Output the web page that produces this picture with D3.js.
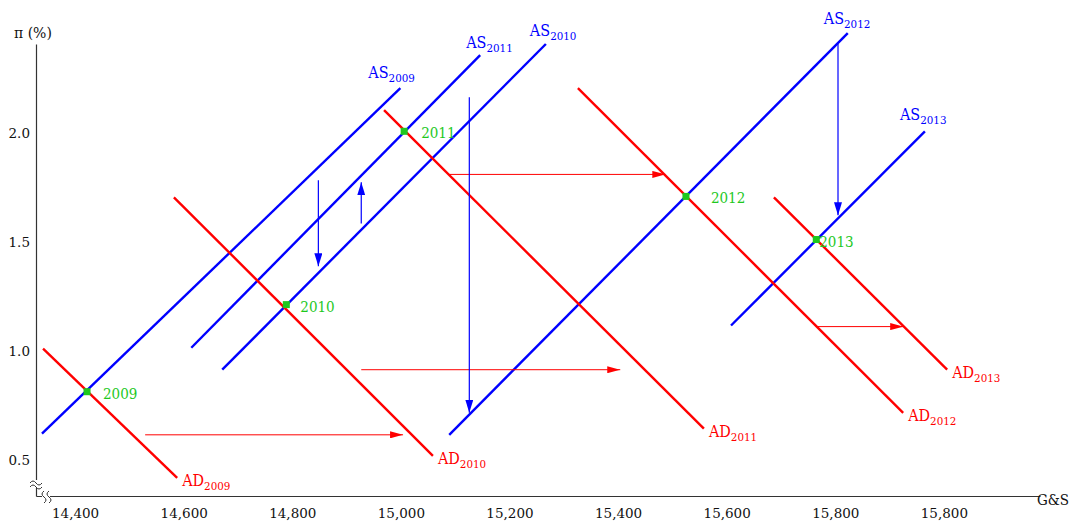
<!DOCTYPE html>
<html><head><meta charset="utf-8">
<script src="https://cdn.jsdelivr.net/npm/d3@7/dist/d3.min.js"></script>
<style>
body{margin:0;background:#fff;}
svg text{font-family:"DejaVu Serif",serif;font-stretch:condensed;}
</style></head>
<body><svg id="c" width="1074" height="523"></svg>
<script>
// ---- data ----
const years = [2009, 2010, 2011, 2012, 2013];
// AS curves: [x1, y1, x2, y2] (G&S, inflation %)
const asStart = [[14339, 0.620], [14671, 0.914], [14614, 1.015], [15089, 0.615], [15608, 1.117]];
const asEnd   = [[14999, 2.207], [15267, 2.410], [15146, 2.359], [15823, 2.460], [15965, 2.009]];
// AD curves
const adStart = [[14341, 1.011], [14582, 1.706], [14969, 2.106], [15326, 2.207], [15687, 1.706]];
const adEnd   = [[14588, 0.417], [15059, 0.518], [15558, 0.643], [15925, 0.716], [16006, 0.914]];
// equilibria
const eqX = [14422, 14789, 15006, 15525, 15765];
const eqY = [0.813, 1.213, 2.009, 1.710, 1.512];
// AD shift arrows (horizontal): [xFrom, xTo, y]
const adShifts = [[14529, 15004, 0.615], [14927, 15404, 0.914], [15087, 15487, 1.811], [15768, 15925, 1.112]];
// AS shift arrows (vertical): [x, yFrom, yTo]
const asShifts = [[14848, 1.784, 1.389], [14927, 1.586, 1.775], [15126, 2.166, 0.716], [15805, 2.410, 1.623]];
const xTickValues = [14400, 14600, 14800, 15000, 15200, 15400, 15600, 15800, 16000];
const xTickLabels = ["14,400", "14,600", "14,800", "15,000", "15,200", "15,400", "15,600", "15,800", "15,800"];
const yTickValues = [0.5, 1.0, 1.5, 2.0];
const yTickLabels = ["0.5", "1.0", "1.5", "2.0"];
const xDomain = [14328, 16177];
const yDomain = [0.334, 2.41];

// label placement (pixels, layout only)
const asLabelDx = [-32, -16, -14, -24, -25];
const asLabelDy = [-10, -8, -7, -9, -11];
const eqLabelDx = [16, 14, 17, 25, 3];

// ---- drawing ----
const svg = d3.select("#c");
const x = d3.scaleLinear().domain(xDomain).range([36, 1040]);
const y = d3.scaleLinear().domain(yDomain).range([496, 44]);
const BLUE = "#0000ff", RED = "#ff0000", GREEN = "#1ec81e", AX = "#333";

const defs = svg.append("defs");
function marker(id, color, w, h) {
  defs.append("marker").attr("id", id).attr("markerUnits", "userSpaceOnUse")
    .attr("viewBox", `0 0 ${w} ${h}`).attr("refX", w).attr("refY", h / 2)
    .attr("markerWidth", w).attr("markerHeight", h).attr("orient", "auto")
    .append("path").attr("d", `M0,0L${w},${h/2}L0,${h}Z`).attr("fill", color);
}
marker("ar", RED, 13, 7);
marker("ab", BLUE, 13, 8);

// axes
const gx = svg.append("g").attr("transform", `translate(0,${y(yDomain[0])})`)
  .call(d3.axisBottom(x).tickValues(xTickValues).tickFormat((d, i) => xTickLabels[i]).tickSize(0).tickSizeOuter(0).tickPadding(12));
const gy = svg.append("g").attr("transform", `translate(${x(xDomain[0])},0)`)
  .call(d3.axisLeft(y).tickValues(yTickValues).tickFormat((d, i) => yTickLabels[i]).tickSize(0).tickSizeOuter(0).tickPadding(6));
[gx, gy].forEach(g => {
  g.select(".domain").attr("stroke", AX).attr("stroke-width", 1.2);
  g.selectAll("text").attr("font-size", 13.5).attr("fill", "#111")
    .attr("font-family", "DejaVu Serif").style("font-stretch", "normal");
});

// axis breaks
const x0 = x(xDomain[0]), y0 = y(yDomain[0]);
svg.append("rect").attr("x", x0 - 3).attr("y", y0 - 16).attr("width", 6).attr("height", 8).attr("fill", "#fff");
[-14, -10].forEach(dy => {
  svg.append("path").attr("d", `M${x0-6},${y0+dy+1} q3,-4 6,0 t6,0`).attr("fill", "none").attr("stroke", AX).attr("stroke-width", 1);
});
svg.append("rect").attr("x", x0 + 6).attr("y", y0 - 3).attr("width", 8).attr("height", 6).attr("fill", "#fff");
[7, 12].forEach(dx => {
  svg.append("path").attr("d", `M${x0+dx+1},${y0-5} q-4,3 0,6 t0,6`).attr("fill", "none").attr("stroke", AX).attr("stroke-width", 1);
});

// axis titles
svg.append("text").attr("x", 14).attr("y", 38).attr("font-size", 14).attr("fill", "#111").style("font-stretch", "normal").text("π (%)");
svg.append("text").attr("x", 1037).attr("y", 505).attr("font-size", 15).attr("fill", "#111").text("G&S");

// AS lines
years.forEach((yr, i) => {
  svg.append("line").attr("x1", x(asStart[i][0])).attr("y1", y(asStart[i][1]))
    .attr("x2", x(asEnd[i][0])).attr("y2", y(asEnd[i][1]))
    .attr("stroke", BLUE).attr("stroke-width", 2.4);
  const t = svg.append("text").attr("x", x(asEnd[i][0]) + asLabelDx[i]).attr("y", y(asEnd[i][1]) + asLabelDy[i])
    .attr("fill", BLUE).attr("font-size", 16);
  t.append("tspan").text("AS");
  t.append("tspan").attr("dy", 4).attr("font-size", 11.5).text(yr);
});
// AD lines
years.forEach((yr, i) => {
  svg.append("line").attr("x1", x(adStart[i][0])).attr("y1", y(adStart[i][1]))
    .attr("x2", x(adEnd[i][0])).attr("y2", y(adEnd[i][1]))
    .attr("stroke", RED).attr("stroke-width", 2.4);
  const t = svg.append("text").attr("x", x(adEnd[i][0]) + 5).attr("y", y(adEnd[i][1]) + 8)
    .attr("fill", RED).attr("font-size", 16);
  t.append("tspan").text("AD");
  t.append("tspan").attr("dy", 4).attr("font-size", 11.5).text(yr);
});

// shift arrows
adShifts.forEach(a => {
  svg.append("line").attr("x1", x(a[0])).attr("y1", y(a[2])).attr("x2", x(a[1])).attr("y2", y(a[2]))
    .attr("stroke", RED).attr("stroke-width", 1).attr("marker-end", "url(#ar)");
});
asShifts.forEach(a => {
  svg.append("line").attr("x1", x(a[0])).attr("y1", y(a[1])).attr("x2", x(a[0])).attr("y2", y(a[2]))
    .attr("stroke", BLUE).attr("stroke-width", 1.2).attr("marker-end", "url(#ab)");
});

// equilibria
years.forEach((yr, i) => {
  svg.append("rect").attr("x", x(eqX[i]) - 3.5).attr("y", y(eqY[i]) - 3.5).attr("width", 7).attr("height", 7).attr("fill", GREEN);
  svg.append("text").attr("x", x(eqX[i]) + eqLabelDx[i]).attr("y", y(eqY[i]) + 7).attr("fill", GREEN)
    .attr("font-size", 15).text(yr);
});
</script></body></html>
